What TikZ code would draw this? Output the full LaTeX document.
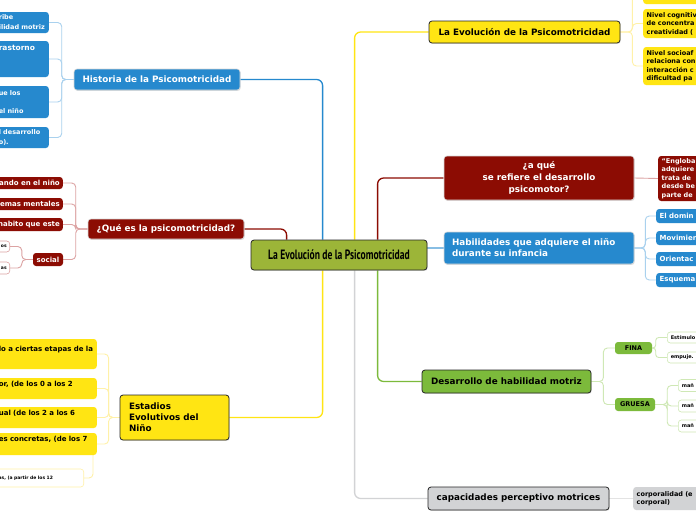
\documentclass[tikz,border=0pt]{standalone}
\usepackage{fontspec}
\setmainfont{DejaVu Sans}
\newfontfamily\condfont[FakeStretch=0.71]{PT Sans}
\usetikzlibrary{shadows}
\usetikzlibrary{backgrounds}

\definecolor{cYellow}{HTML}{FFE513}
\definecolor{cBlue}{HTML}{2689CE}
\definecolor{cRed}{HTML}{8C0C03}
\definecolor{cGreen}{HTML}{7CBA3B}
\definecolor{cOlive}{HTML}{9CB538}
\definecolor{cGrey}{HTML}{D2D3D5}
\definecolor{lBlue}{HTML}{A9D1EE}
\definecolor{lRed}{HTML}{DCA3A3}
\definecolor{lYellow}{HTML}{FFF1A8}
\definecolor{lGreen}{HTML}{CFE8B5}
\definecolor{lGrey}{HTML}{E3E3E3}

\begin{document}
\begin{tikzpicture}[x=1pt,y=-1pt,
  mainbox/.style={rounded corners=3pt, inner sep=2pt, align=center,
    font=\fontsize{8.8}{11}\selectfont\bfseries,
    drop shadow={opacity=0.25,shadow xshift=0.7pt,shadow yshift=-0.9pt}},
  darkedge/.style={draw=black!85, line width=0.8pt},
  lightedge/.style={draw=black!15, line width=0.6pt},
  leaf/.style={rounded corners=3pt, inner xsep=3pt, inner ysep=1pt, align=left,
    font=\fontsize{6.5}{8.5}\selectfont\bfseries},
  leftleaf/.style={leaf, anchor=east},
  cutleaf/.style={leaf, anchor=east, text width=120, align=right},
  rightleaf/.style={leaf, anchor=west, text width=70, inner xsep=3.5pt},
  tinyleaf/.style={fill=white, line width=0.6pt, font=\fontsize{4.5}{6}\selectfont\bfseries},
  trunk/.style={line width=1.3pt, rounded corners=6pt},
  twig/.style={line width=0.9pt, rounded corners=4pt}]

\useasboundingbox (0,0) rectangle (696,520);

% Central topic
\node[mainbox, darkedge, fill=cOlive, minimum width=176, minimum height=30,
  font=\condfont\fontsize{13.5}{15}\selectfont\bfseries] (cen) at (339,255) {La Evolución de la Psicomotricidad};

% Main topics
\node[mainbox, darkedge, fill=cYellow, minimum width=191, minimum height=22] (evo) at (524.5,32) {La Evolución de la Psicomotricidad};
\node[mainbox, lightedge, fill=cRed, text=white, minimum width=190, minimum height=44,
  font=\fontsize{8.8}{12}\selectfont\bfseries] (aque) at (539,178) {¿a qué\\se refiere el desarrollo\\psicomotor?};
\node[mainbox, lightedge, fill=cBlue, text=white, text width=174, inner xsep=8pt, align=left,
  minimum height=32] (habil) at (539,248) {Habilidades que adquiere el niño\\durante su infancia};
\node[mainbox, darkedge, fill=cGreen, minimum width=169, minimum height=23] (desa) at (506.5,381.5) {Desarrollo de habilidad motriz};
\node[mainbox, darkedge, fill=cGrey, minimum width=181, minimum height=23] (capa) at (518.5,498.5) {capacidades perceptivo motrices};
\node[mainbox, darkedge, fill=cYellow, text width=91, inner xsep=9pt, align=left,
  minimum height=45] (esta) at (174.5,417.5) {Estadios\\Evolutivos del\\Niño};
\node[mainbox, lightedge, fill=cBlue, text=white, minimum width=166, minimum height=21] (hist) at (157,79.5) {Historia de la Psicomotricidad};
\node[mainbox, lightedge, fill=cRed, text=white, minimum width=156, minimum height=20] (quees) at (166,229) {¿Qué es la psicomotricidad?};

% Historia
\node[leftleaf, fill=cBlue, text=white, text width=47, minimum height=21,
  font=\fontsize{6.5}{10}\selectfont\bfseries] (h1) at (49,22.5) {ribe\\ilidad motriz};
\node[leftleaf, fill=cBlue, text=white, text width=47, minimum height=36,
  font=\fontsize{7.5}{11}\selectfont\bfseries] (h2) at (49,59) {rastorno\\~\\~};
\node[leftleaf, fill=cBlue, text=white, text width=47, minimum height=32,
  font=\fontsize{6.5}{9}\selectfont\bfseries] (h3) at (49,102) {ue los\\~\\el niño};
\node[leftleaf, fill=cBlue, text=white, text width=47, minimum height=21,
  font=\fontsize{6.5}{10}\selectfont\bfseries] (h4) at (49,137.5) {l desarrollo\\o).};

% Que es
\node[cutleaf, fill=cRed, text=white, minimum height=12,
  font=\fontsize{7}{9}\selectfont\bfseries] (q1) at (63,183) {ando en el niño};
\node[cutleaf, fill=cRed, text=white, minimum height=12,
  font=\fontsize{7}{9}\selectfont\bfseries] (q2) at (63,204) {emas mentales};
\node[cutleaf, fill=cRed, text=white, minimum height=13,
  font=\fontsize{7}{9}\selectfont\bfseries] (q3) at (63,224.5) {habito que este};
\node[leaf, fill=cRed, text=white, minimum width=30, minimum height=13, inner xsep=1pt, align=center,
  font=\fontsize{7}{9}\selectfont\bfseries] (soc) at (48,259.5) {social};
\node[cutleaf, tinyleaf, draw=lRed, text width=40, minimum height=11] (s1) at (10,246.5) {os};
\node[cutleaf, tinyleaf, draw=lRed, text width=40, minimum height=12] (s2) at (10,268) {as};

% Estadios
\node[leftleaf, fill=cYellow, text width=95, minimum height=30,
  font=\fontsize{7}{10}\selectfont\bfseries] (e1) at (97,354) {lo a ciertas etapas de la\\~};
\node[leftleaf, fill=cYellow, text width=95, minimum height=21,
  font=\fontsize{7}{10}\selectfont\bfseries] (e2) at (97,388.5) {or, (de los 0 a los 2\\~};
\node[leftleaf, fill=cYellow, text width=95, minimum height=21,
  font=\fontsize{7}{10}\selectfont\bfseries] (e3) at (97,417.5) {ual (de los 2 a los 6\\~};
\node[leftleaf, fill=cYellow, text width=95, minimum height=22,
  font=\fontsize{7}{10}\selectfont\bfseries] (e4) at (97,444) {es concretas, (de los 7\\~};
\node[leftleaf, tinyleaf, draw=lYellow, text width=82, minimum height=18] (e5) at (84,478) {as, (a partir de los 12};

% La Evolucion
\node[rightleaf, fill=cYellow, minimum height=24] (v0) at (643,-8) {};
\node[rightleaf, fill=cYellow, minimum height=29] (v1) at (643,23.5) {Nivel cognitiv\\de concentra\\creatividad (};
\node[rightleaf, fill=cYellow, minimum height=38] (v2) at (643,66) {Nivel socioaf\\relaciona con\\interacción c\\dificultad pa};

% a que se refiere
\node[rightleaf, fill=cRed, text=white, minimum height=45] (a1) at (658,178.5) {“Engloba\\adquiere\\trata de\\desde be\\parte de};

% Habilidades
\node[rightleaf, fill=cBlue, text=white, minimum height=14, font=\fontsize{7}{9}\selectfont\bfseries] (b1) at (656,216) {El domin};
\node[rightleaf, fill=cBlue, text=white, minimum height=14, font=\fontsize{7}{9}\selectfont\bfseries] (b2) at (656,238) {Movimien};
\node[rightleaf, fill=cBlue, text=white, minimum height=14, font=\fontsize{7}{9}\selectfont\bfseries] (b3) at (656,259) {Orientac};
\node[rightleaf, fill=cBlue, text=white, minimum height=14, font=\fontsize{7}{9}\selectfont\bfseries] (b4) at (656,280) {Esquema};

% Desarrollo
\node[leaf, fill=cGreen, minimum width=37, minimum height=12, inner xsep=1pt, align=center] (fina) at (633.5,348) {FINA};
\node[leaf, fill=cGreen, minimum width=40, minimum height=13, inner xsep=1pt, align=center] (grue) at (635,404.5) {GRUESA};
\node[rightleaf, tinyleaf, draw=lGreen, minimum height=11, font=\fontsize{5}{6}\selectfont\bfseries] (f1) at (667,337.5) {Estímulo};
\node[rightleaf, tinyleaf, draw=lGreen, minimum height=11, font=\fontsize{5}{6}\selectfont\bfseries] (f2) at (667,357.5) {empuje.};
\node[rightleaf, tinyleaf, draw=lGreen, minimum height=12, font=\fontsize{5}{6}\selectfont\bfseries] (g1) at (678,385.5) {mañ};
\node[rightleaf, tinyleaf, draw=lGreen, minimum height=12, font=\fontsize{5}{6}\selectfont\bfseries] (g2) at (678,406) {mañ};
\node[rightleaf, tinyleaf, draw=lGreen, minimum height=12, font=\fontsize{5}{6}\selectfont\bfseries] (g3) at (678,426) {mañ};

% capacidades
\node[rightleaf, fill=cGrey, minimum height=23] (c1) at (633,498.5) {corporalidad (e\\corporal)};

\begin{scope}[on background layer]
\fill[white] (0,0) rectangle (696,520);
% Trunks from the central topic
\draw[trunk, cBlue] (hist.east) -| ([xshift=72pt]cen.north west);
\draw[trunk, cRed] (quees.east) -| ([xshift=36pt]cen.north west);
\draw[trunk, cYellow] ([xshift=104pt]cen.north west) |- (evo.west);
\draw[trunk, cRed] ([xshift=127pt]cen.north west) |- (aque.west);
\draw[trunk, cBlue!55] (cen.east |- habil.west) -- (habil.west);
\draw[trunk, cYellow] ([xshift=72pt]cen.south west) |- (esta.east);
\draw[trunk, cGrey] ([xshift=104pt]cen.south west) |- (capa.west);
\draw[trunk, cGreen] ([xshift=127pt]cen.south west) |- (desa.west);
% Twigs
\foreach \c in {h1,h2,h3,h4}
  \draw[twig, lBlue] (hist.west) -- ++(-12,0) |- (\c.east);
\foreach \c in {q1,q2,q3,soc}
  \draw[twig, lRed] (quees.west) -- ++(-12,0) |- (\c.east);
\foreach \c in {s1,s2}
  \draw[twig, lRed] (soc.west) -- ++(-11,0) |- (\c.east);
\foreach \c in {e1,e2,e3,e4}
  \draw[twig, lYellow] (esta.west) -- ++(-11,0) |- (\c.east);
\draw[twig, lYellow] ([xshift=-4pt]e4.south east) |- (e5.east);
\foreach \c in {v0,v1,v2}
  \draw[twig, lYellow] (evo.east) -- ++(12,0) |- (\c.west);
\draw[twig, lRed] (aque.east) -- (a1.west);
\foreach \c in {b1,b2,b3,b4}
  \draw[twig, lBlue] (habil.east) -- ++(11,0) |- (\c.west);
\foreach \c in {fina,grue}
  \draw[twig, lGreen] (desa.east) -- ++(12,0) |- (\c.west);
\foreach \c in {f1,f2}
  \draw[twig, lGreen, rounded corners=3pt] (fina.east) -- ++(3.5,0) |- (\c.west);
\foreach \c in {g1,g2,g3}
  \draw[twig, lGreen] (grue.east) -- ++(12,0) |- (\c.west);
\draw[twig, lGrey] (capa.east) -- (c1.west);
\end{scope}
\end{tikzpicture}
\end{document}
